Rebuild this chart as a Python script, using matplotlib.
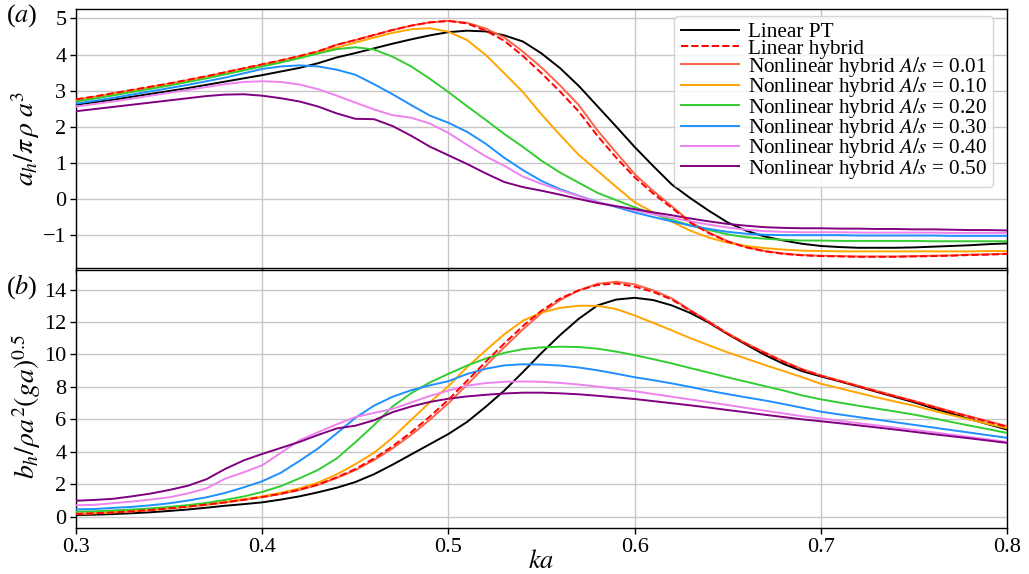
import numpy as np
import matplotlib
matplotlib.use("Agg")
import matplotlib.pyplot as plt

plt.rcParams['font.family'] = ['Liberation Serif', 'DejaVu Serif']
plt.rcParams['mathtext.fontset'] = 'stix'

ka = np.round(np.arange(0.30, 0.805, 0.01), 2)

# panel (a): added mass
a_pt = [2.61, 2.68, 2.75, 2.83, 2.91, 2.99, 3.07, 3.16, 3.25, 3.34, 3.43, 3.53, 3.63, 3.76, 3.92,
        4.04, 4.17, 4.30, 4.42, 4.53, 4.62, 4.66, 4.64, 4.53, 4.36, 4.03, 3.62, 3.13, 2.57, 2.01,
        1.44, 0.91, 0.40, 0.02, -0.33, -0.65, -0.88, -1.04, -1.15, -1.24, -1.30, -1.33, -1.35, -1.35,
        -1.35, -1.34, -1.32, -1.30, -1.28, -1.25, -1.23]
a_hyb = [2.76, 2.84, 2.93, 3.02, 3.11, 3.20, 3.30, 3.40, 3.51, 3.62, 3.73, 3.84, 3.96, 4.09, 4.27,
         4.40, 4.54, 4.68, 4.80, 4.89, 4.93, 4.86, 4.66, 4.38, 3.96, 3.48, 2.97, 2.42, 1.75, 1.15,
         0.60, 0.15, -0.25, -0.66, -0.95, -1.18, -1.34, -1.45, -1.52, -1.56, -1.58, -1.59, -1.60, -1.60,
         -1.60, -1.59, -1.58, -1.57, -1.55, -1.54, -1.52]
a_001 = [2.75, 2.83, 2.92, 3.01, 3.10, 3.19, 3.29, 3.39, 3.50, 3.61, 3.72, 3.83, 3.95, 4.08, 4.27,
         4.40, 4.54, 4.68, 4.80, 4.89, 4.93, 4.88, 4.72, 4.47, 4.08, 3.64, 3.14, 2.60, 1.90, 1.29,
         0.69, 0.22, -0.20, -0.64, -0.93, -1.17, -1.33, -1.44, -1.51, -1.55, -1.57, -1.58, -1.59, -1.59,
         -1.59, -1.58, -1.57, -1.56, -1.54, -1.53, -1.51]
a_010 = [2.73, 2.81, 2.90, 2.99, 3.08, 3.17, 3.27, 3.37, 3.48, 3.59, 3.70, 3.81, 3.93, 4.06, 4.19,
         4.33, 4.47, 4.60, 4.70, 4.73, 4.63, 4.40, 3.99, 3.48, 2.96, 2.34, 1.77, 1.22, 0.78, 0.34,
         -0.09, -0.37, -0.63, -0.88, -1.07, -1.21, -1.30, -1.36, -1.40, -1.43, -1.44, -1.45, -1.45, -1.45,
         -1.45, -1.45, -1.45, -1.45, -1.45, -1.44, -1.44]
a_020 = [2.70, 2.78, 2.87, 2.96, 3.05, 3.14, 3.24, 3.34, 3.45, 3.56, 3.67, 3.78, 3.90, 4.03, 4.15,
         4.20, 4.14, 3.94, 3.67, 3.33, 2.96, 2.57, 2.19, 1.80, 1.44, 1.06, 0.73, 0.45, 0.17, -0.03,
         -0.23, -0.41, -0.58, -0.73, -0.86, -0.98, -1.06, -1.10, -1.13, -1.15, -1.15, -1.16, -1.16, -1.16,
         -1.16, -1.16, -1.17, -1.17, -1.17, -1.17, -1.17]
a_030 = [2.64, 2.72, 2.80, 2.89, 2.98, 3.07, 3.16, 3.26, 3.36, 3.48, 3.60, 3.67, 3.70, 3.67, 3.58,
         3.44, 3.18, 2.90, 2.60, 2.31, 2.11, 1.86, 1.53, 1.14, 0.80, 0.50, 0.27, 0.09, -0.08, -0.22,
         -0.37, -0.50, -0.62, -0.74, -0.83, -0.91, -0.96, -0.99, -1.00, -1.00, -1.00, -1.00, -1.01, -1.01,
         -1.01, -1.01, -1.01, -1.02, -1.02, -1.02, -1.02]
a_040 = [2.56, 2.63, 2.70, 2.78, 2.86, 2.94, 3.02, 3.10, 3.18, 3.24, 3.26, 3.24, 3.17, 3.04, 2.86,
         2.67, 2.48, 2.32, 2.25, 2.09, 1.83, 1.50, 1.18, 0.92, 0.62, 0.42, 0.24, 0.08, -0.09, -0.20,
         -0.31, -0.42, -0.52, -0.62, -0.71, -0.79, -0.85, -0.89, -0.91, -0.92, -0.92, -0.92, -0.93, -0.93,
         -0.93, -0.93, -0.93, -0.94, -0.94, -0.94, -0.94]
a_050 = [2.43, 2.49, 2.55, 2.61, 2.67, 2.73, 2.79, 2.85, 2.89, 2.90, 2.86, 2.79, 2.70, 2.56, 2.37,
         2.22, 2.21, 2.02, 1.75, 1.45, 1.21, 0.97, 0.71, 0.47, 0.33, 0.23, 0.12, 0.00, -0.11, -0.20,
         -0.28, -0.37, -0.45, -0.54, -0.62, -0.69, -0.74, -0.78, -0.80, -0.81, -0.81, -0.82, -0.82, -0.83,
         -0.83, -0.84, -0.84, -0.85, -0.86, -0.86, -0.87]

# panel (b): damping
b_pt = [0.12, 0.14, 0.18, 0.23, 0.29, 0.37, 0.46, 0.57, 0.69, 0.79, 0.90, 1.07, 1.27, 1.52, 1.80,
        2.15, 2.63, 3.22, 3.85, 4.48, 5.11, 5.85, 6.78, 7.78, 8.92, 10.10, 11.20, 12.20, 13.02, 13.38,
        13.49, 13.35, 13.02, 12.55, 11.95, 11.25, 10.60, 9.97, 9.42, 8.97, 8.65, 8.35, 8.03, 7.70,
        7.38, 7.06, 6.70, 6.37, 6.02, 5.70, 5.38]
b_hyb = [0.19, 0.23, 0.28, 0.35, 0.43, 0.53, 0.64, 0.76, 0.90, 1.06, 1.23, 1.43, 1.68, 2.00, 2.44,
         2.95, 3.60, 4.35, 5.22, 6.18, 7.22, 8.38, 9.55, 10.68, 11.75, 12.70, 13.45, 13.95, 14.28, 14.37,
         14.18, 13.85, 13.38, 12.68, 11.98, 11.26, 10.64, 10.08, 9.54, 9.06, 8.68, 8.36, 8.04, 7.72,
         7.41, 7.11, 6.78, 6.46, 6.15, 5.85, 5.55]
b_001 = [0.18, 0.22, 0.27, 0.34, 0.42, 0.52, 0.63, 0.75, 0.89, 1.05, 1.22, 1.42, 1.66, 1.98, 2.40,
         2.88, 3.50, 4.22, 5.05, 5.98, 7.00, 8.15, 9.30, 10.45, 11.55, 12.55, 13.35, 13.95, 14.35, 14.48,
         14.32, 13.95, 13.45, 12.72, 12.02, 11.30, 10.68, 10.12, 9.58, 9.10, 8.72, 8.40, 8.08, 7.76,
         7.45, 7.15, 6.82, 6.50, 6.19, 5.89, 5.59]
b_010 = [0.20, 0.24, 0.30, 0.37, 0.45, 0.55, 0.66, 0.79, 0.93, 1.09, 1.27, 1.49, 1.76, 2.12, 2.62,
         3.25, 3.95, 4.88, 5.98, 7.05, 8.05, 9.22, 10.25, 11.25, 12.08, 12.58, 12.87, 13.00, 13.00, 12.80,
         12.40, 11.95, 11.48, 11.00, 10.56, 10.13, 9.74, 9.35, 8.98, 8.60, 8.20, 7.92, 7.64, 7.36,
         7.10, 6.85, 6.55, 6.27, 6.00, 5.72, 5.46]
b_020 = [0.33, 0.35, 0.40, 0.46, 0.53, 0.62, 0.73, 0.87, 1.05, 1.26, 1.54, 1.90, 2.38, 2.90, 3.60,
         4.60, 5.65, 6.80, 7.62, 8.28, 8.81, 9.32, 9.75, 10.10, 10.33, 10.44, 10.48, 10.46, 10.36, 10.18,
         9.96, 9.71, 9.45, 9.16, 8.88, 8.59, 8.32, 8.05, 7.78, 7.48, 7.24, 7.04, 6.85, 6.67,
         6.49, 6.30, 6.08, 5.85, 5.62, 5.40, 5.17]
b_030 = [0.47, 0.49, 0.56, 0.62, 0.72, 0.84, 1.01, 1.21, 1.48, 1.82, 2.20, 2.72, 3.45, 4.22, 5.15,
         6.10, 6.85, 7.40, 7.80, 8.10, 8.36, 8.80, 9.12, 9.33, 9.40, 9.38, 9.32, 9.20, 9.03, 8.82,
         8.60, 8.42, 8.22, 8.00, 7.77, 7.56, 7.36, 7.17, 6.95, 6.72, 6.48, 6.31, 6.15, 5.99,
         5.83, 5.67, 5.51, 5.35, 5.19, 5.03, 4.87]
b_040 = [0.72, 0.75, 0.85, 0.95, 1.07, 1.21, 1.45, 1.76, 2.35, 2.75, 3.18, 3.95, 4.72, 5.22, 5.70,
         6.15, 6.40, 6.65, 7.05, 7.45, 7.78, 8.08, 8.24, 8.32, 8.34, 8.32, 8.25, 8.15, 8.03, 7.89,
         7.74, 7.57, 7.40, 7.23, 7.06, 6.89, 6.71, 6.54, 6.37, 6.20, 6.06, 5.92, 5.78, 5.64,
         5.50, 5.36, 5.22, 5.07, 4.92, 4.77, 4.62]
b_050 = [1.00, 1.05, 1.12, 1.27, 1.44, 1.66, 1.92, 2.32, 2.95, 3.48, 3.88, 4.25, 4.62, 5.05, 5.45,
         5.62, 5.95, 6.45, 6.80, 7.08, 7.28, 7.42, 7.52, 7.60, 7.65, 7.65, 7.61, 7.55, 7.46, 7.36,
         7.26, 7.13, 7.00, 6.87, 6.73, 6.58, 6.44, 6.29, 6.15, 6.01, 5.89, 5.77, 5.64, 5.51,
         5.38, 5.24, 5.10, 4.97, 4.84, 4.70, 4.56]

labels = ["Linear PT", "Linear hybrid",
          "Nonlinear hybrid $A/s$ = 0.01", "Nonlinear hybrid $A/s$ = 0.10",
          "Nonlinear hybrid $A/s$ = 0.20", "Nonlinear hybrid $A/s$ = 0.30",
          "Nonlinear hybrid $A/s$ = 0.40", "Nonlinear hybrid $A/s$ = 0.50"]
colors = ["black", "red", "tomato", "orange", "limegreen", "dodgerblue", "violet", "purple"]
styles = ["-", "--", "-", "-", "-", "-", "-", "-"]

fig = plt.figure(figsize=(10.29, 5.74), dpi=100)
ax1 = fig.add_axes([0.0739, 0.5331, 0.9048, 0.4512])
ax2 = fig.add_axes([0.0739, 0.0801, 0.9048, 0.4495], sharex=ax1)

top = [a_pt, a_hyb, a_001, a_010, a_020, a_030, a_040, a_050]
bot = [b_pt, b_hyb, b_001, b_010, b_020, b_030, b_040, b_050]
order = [0, 2, 3, 4, 5, 6, 7, 1]  # dashed drawn last so it shows on top
for i in order:
    ax1.plot(ka, top[i], color=colors[i], ls=styles[i], lw=1.4, label=labels[i], zorder=3)
    ax2.plot(ka, bot[i], color=colors[i], ls=styles[i], lw=1.4, zorder=3)

for ax in (ax1, ax2):
    ax.grid(True, color='0.78', lw=1.0)
    ax.set_axisbelow(True)
    ax.tick_params(labelsize=16, length=4, width=1, pad=3)
    for s in ax.spines.values():
        s.set_linewidth(1.0)

ax1.set_xlim(0.3, 0.8)
ax1.set_ylim(-1.91, 5.26)
ax1.set_yticks([-1, 0, 1, 2, 3, 4, 5])
ax1.tick_params(labelbottom=False)
ax2.set_ylim(-0.68, 15.2)
ax2.set_yticks([0, 2, 4, 6, 8, 10, 12, 14])
ax2.set_xticks([0.3, 0.4, 0.5, 0.6, 0.7, 0.8])
ax2.set_xticklabels(["0.3", "0.4", "0.5", "0.6", "0.7", "0.8"])

ax1.set_ylabel(r"$a_h/\pi\,\rho\;a^3$", fontsize=20)
ax1.yaxis.set_label_coords(-0.037, 0.5)
ax2.set_ylabel(r"$b_h/\rho a^2(ga)^{0.5}$", fontsize=20)
ax2.yaxis.set_label_coords(-0.036, 0.47)
ax2.set_xlabel(r"$ka$", fontsize=19, labelpad=-5)

handles, labs = ax1.get_legend_handles_labels()
idx = [labs.index(l) for l in labels]
ax1.legend([handles[i] for i in idx], [labs[i] for i in idx], loc='upper right',
           bbox_to_anchor=(0.985, 0.973), borderaxespad=0, fontsize=15.3,
           labelspacing=-0.17, handlelength=2.75, handletextpad=0.4,
           borderpad=0.3, framealpha=0.8, edgecolor='0.8', fancybox=True)

fig.text(0.006, 0.972, "($a$)", fontsize=19, va='center')
fig.text(0.006, 0.500, "($b$)", fontsize=19, va='center')

fig.savefig("out.png", dpi=100)
